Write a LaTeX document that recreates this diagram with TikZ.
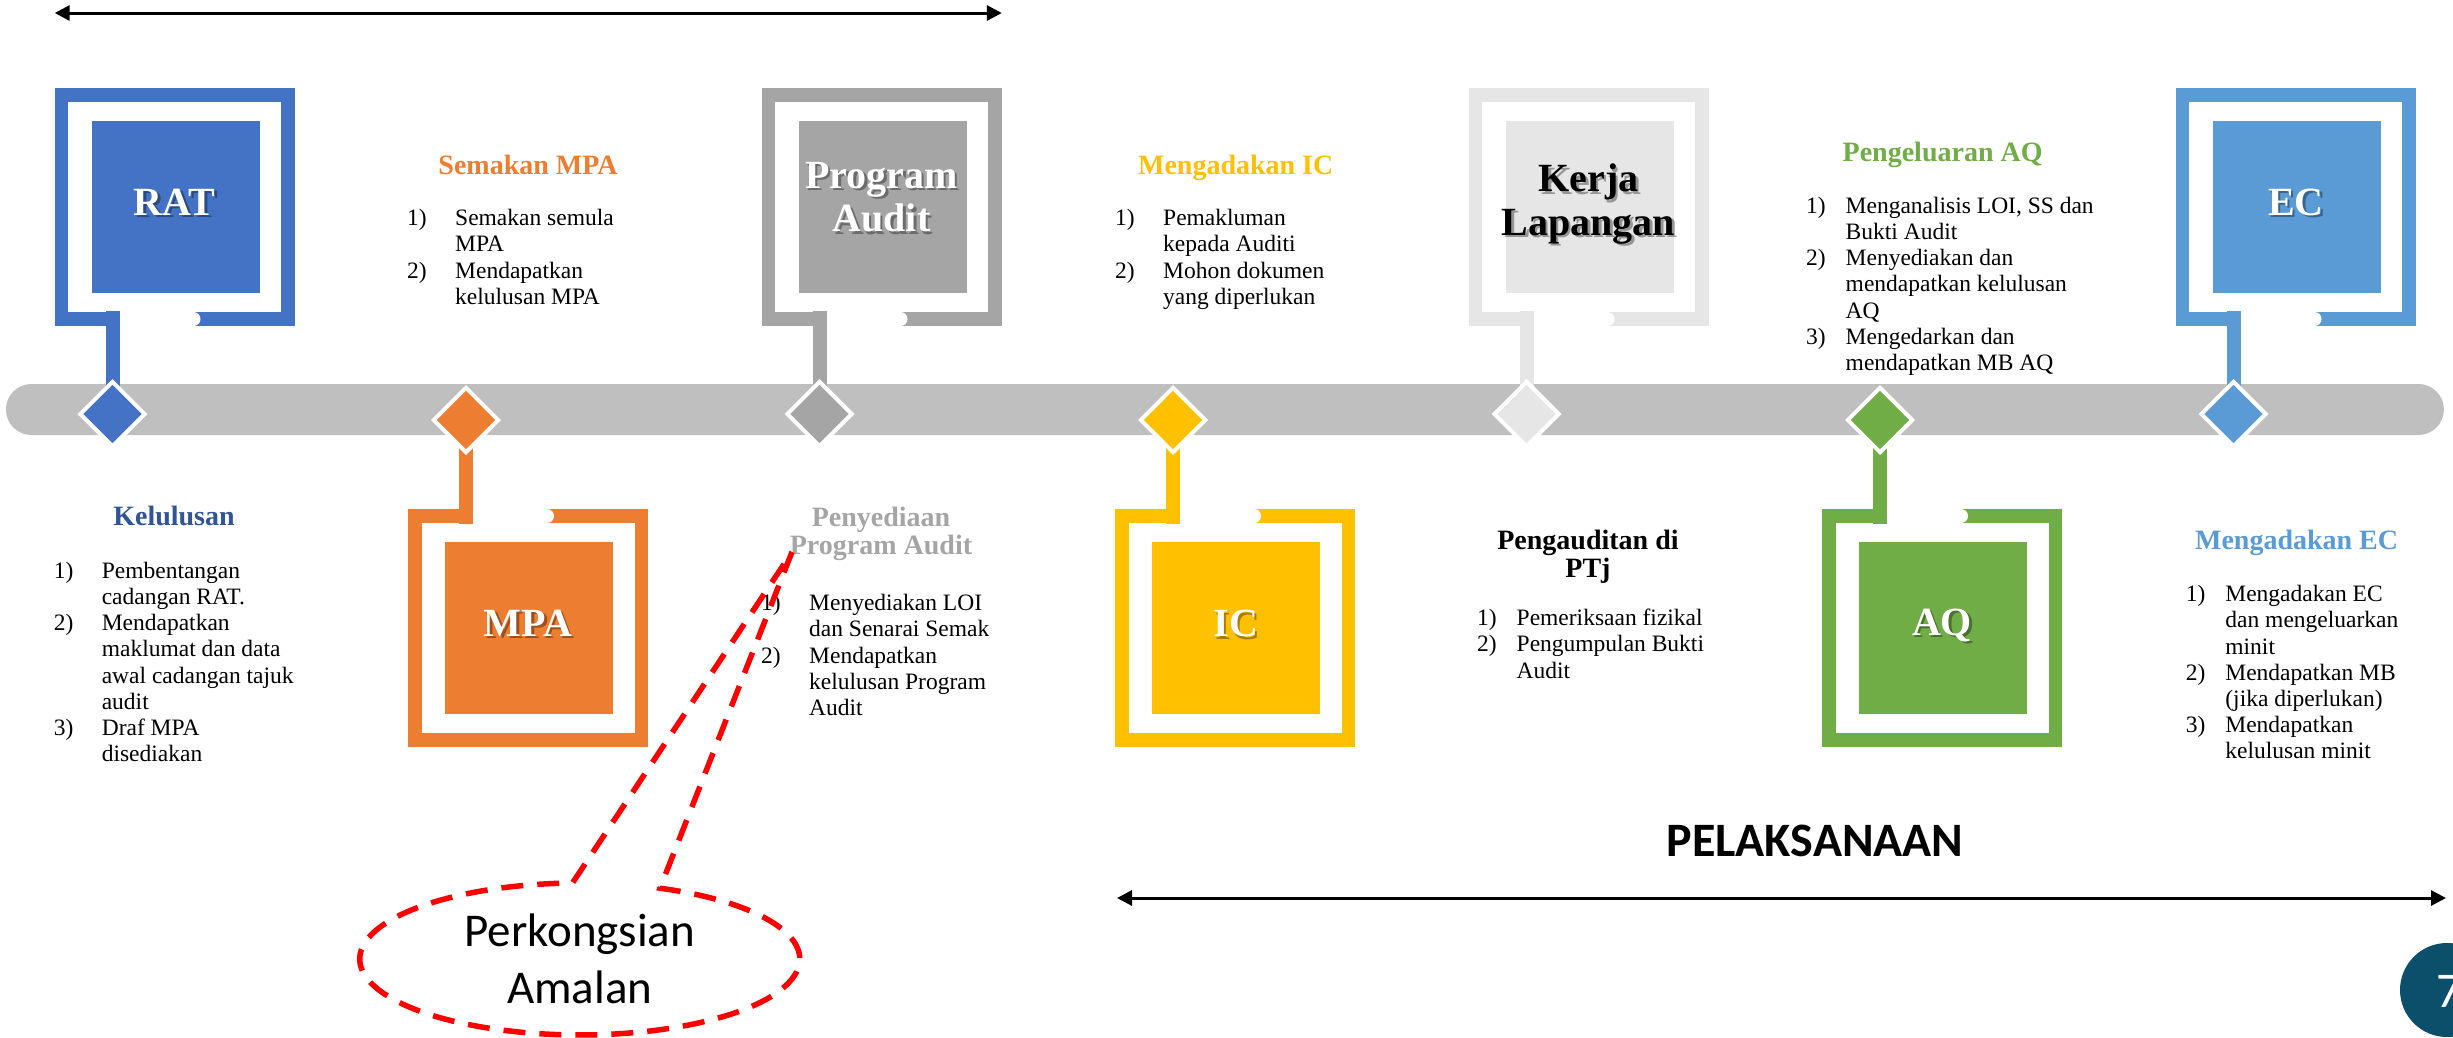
\documentclass[tikz,border=0pt]{standalone}
\usepackage{fontspec}
\setmainfont{Liberation Serif}
\newfontfamily\carlito{Carlito}
\usetikzlibrary{arrows.meta,shapes.geometric}
\definecolor{cRAT}{HTML}{4472C4}
\definecolor{cMPA}{HTML}{ED7D31}
\definecolor{cPA}{HTML}{A5A5A5}
\definecolor{cIC}{HTML}{FFC000}
\definecolor{cKL}{HTML}{E7E6E6}
\definecolor{cAQ}{HTML}{70AD47}
\definecolor{cEC}{HTML}{5B9BD5}
\definecolor{cBar}{HTML}{BFBFBF}
\definecolor{cKel}{HTML}{2F5597}
\definecolor{cPage}{HTML}{0B4F6B}
\definecolor{cRed}{HTML}{FF0000}
\newcommand\nb[1]{\makebox[48pt][l]{#1}}
\newcommand\nc[1]{\makebox[39.5pt][l]{#1}}
\newcommand\tl[1]{\begin{tabular}[t]{@{}l@{}}#1\end{tabular}}
\newcommand\tc[1]{\begin{tabular}[t]{@{}c@{}}#1\end{tabular}}
\tikzset{
  box/.style={rectangle,inner sep=0,minimum width=168pt,minimum height=172pt},
  dia/.style={diamond,aspect=1,inner sep=0,minimum width=66pt,minimum height=66pt,draw=white,line width=4pt},
  lbl/.style={inner sep=0,font=\fontsize{40}{43.4}\selectfont\bfseries},
  ttl/.style={inner sep=0,anchor=base,font=\fontsize{28}{28.6}\selectfont\bfseries},
  lst/.style={inner sep=0,anchor=base west,font=\fontsize{23.5}{26.2}\selectfont},
  dblarrow/.style={line width=3pt,{Triangle[length=15pt,width=15pt]}-{Triangle[length=15pt,width=15pt]}},
  callout/.style={draw=cRed,line width=5.5pt,dash pattern=on 22pt off 14pt}
}
\newcommand\upframe[3]{%
  \fill[#2] (#1,88) rectangle (#1+240,326);
  \fill[white] (#1+13.5,102) rectangle (#1+226.5,312);
  \fill[white] (#1+65,311) rectangle (#1+139,327);
  \fill[white] (#1+139,319) circle[radius=7];
  \fill[#2] (#1+51,311) rectangle (#1+65,388);
  \node[box,fill=#2] (#3) at (#1+121,207) {};
  \node[dia,fill=#2] (#3d) at (#1+58,414) {};
}
\newcommand\downframe[3]{%
  \fill[#2] (#1,509) rectangle (#1+240,747);
  \fill[white] (#1+13.5,523) rectangle (#1+226.5,733);
  \fill[white] (#1+65,508) rectangle (#1+139,524);
  \fill[white] (#1+139,516) circle[radius=7];
  \fill[#2] (#1+51,440) rectangle (#1+65,524);
  \node[box,fill=#2] (#3) at (#1+121,628) {};
  \node[dia,fill=#2] (#3d) at (#1+58,420) {};
}
\newcommand\lbl[5]{%
  \node[lbl,text=black,opacity=.35,anchor=base] (#1s) at (#2+2.5,#3+2.5) {\tc{#5}};
  \node[lbl,text=#4,anchor=base] (#1) at (#2,#3) {\tc{#5}};
}
\begin{document}
\begin{tikzpicture}[x=1pt,y=-1pt]
\useasboundingbox (0,0) rectangle (2453,1037);
\clip (0,0) rectangle (2453,1037);
\fill[white] (0,0) rectangle (2453,1037);

% timeline bar
\node[fill=cBar,rounded corners=25.5pt,inner sep=0,minimum width=2438pt,minimum height=51pt] (bar) at (1224.9,409.5) {};

% frames
\upframe{54.5}{cRAT}{rat}
\downframe{408}{cMPA}{mpa}
\upframe{761.5}{cPA}{pa}
\downframe{1115}{cIC}{ic}
\upframe{1468.5}{cKL}{kl}
\downframe{1822}{cAQ}{aq}
\upframe{2175.5}{cEC}{ec}

% labels in boxes
\lbl{tRAT}{174.5}{215}{white}{RAT}
\lbl{tMPA}{528}{636}{white}{MPA}
\lbl{tPA}{881.5}{188.3}{white}{Program\\Audit}
\lbl{tIC}{1235.7}{636.7}{white}{IC}
\lbl{tKL}{1588.5}{191.7}{black}{Kerja\\Lapangan}
\lbl{tAQ}{1942}{635}{white}{AQ}
\lbl{tEC}{2296}{215}{white}{EC}

% titles
\node[ttl,text=cKel] (hKel) at (174,525.7) {Kelulusan};
\node[ttl,text=cMPA] (hSem) at (528,174.3) {Semakan MPA};
\node[ttl,text=cPA] (hPen) at (881,526) {\tc{Penyediaan\\Program Audit}};
\node[ttl,text=cIC] (hMic) at (1235.7,174.3) {Mengadakan IC};
\node[ttl,text=black] (hPtj) at (1588,549) {\tc{Pengauditan di\\PTj}};
\node[ttl,text=cAQ] (hAQ) at (1942.6,161.7) {Pengeluaran AQ};
\node[ttl,text=cEC] (hMec) at (2296.6,549) {Mengadakan EC};

% lists
\node[lst] (lKel) at (53.6,578.3) {\tl{\nb{1)}Pembentangan\\ \nb{}cadangan RAT.\\ \nb{2)}Mendapatkan\\ \nb{}maklumat dan data\\ \nb{}awal cadangan tajuk\\ \nb{}audit\\ \nb{3)}Draf MPA\\ \nb{}disediakan}};
\node[lst] (lSem) at (407,225.7) {\tl{\nb{1)}Semakan semula\\ \nb{}MPA\\ \nb{2)}Mendapatkan\\ \nb{}kelulusan MPA}};
\node[lst] (lPen) at (761,610.7) {\tl{\nb{1)}Menyediakan LOI\\ \nb{}dan Senarai Semak\\ \nb{2)}Mendapatkan\\ \nb{}kelulusan Program\\ \nb{}Audit}};
\node[lst] (lMic) at (1115,225.7) {\tl{\nb{1)}Pemakluman\\ \nb{}kepada Auditi\\ \nb{2)}Mohon dokumen\\ \nb{}yang diperlukan}};
\node[lst] (lPtj) at (1477,625.7) {\tl{\nc{1)}Pemeriksaan fizikal\\ \nc{2)}Pengumpulan Bukti\\ \nc{}Audit}};
\node[lst] (lAQ) at (1806,213.3) {\tl{\nc{1)}Menganalisis LOI, SS dan\\ \nc{}Bukti Audit\\ \nc{2)}Menyediakan dan\\ \nc{}mendapatkan kelulusan\\ \nc{}AQ\\ \nc{3)}Mengedarkan dan\\ \nc{}mendapatkan MB AQ}};
\node[lst] (lMec) at (2185.7,601.7) {\tl{\nc{1)}Mengadakan EC\\ \nc{}dan mengeluarkan\\ \nc{}minit\\ \nc{2)}Mendapatkan MB\\ \nc{}(jika diperlukan)\\ \nc{3)}Mendapatkan\\ \nc{}kelulusan minit}};

% arrows
\coordinate (a1) at (54.7,13);
\coordinate (a2) at (1001.8,13);
\draw[dblarrow] (a1) -- (a2);
\coordinate (b1) at (1117,898);
\coordinate (b2) at (2446,898);
\draw[dblarrow] (b1) -- (b2);
\node[inner sep=0,anchor=base,font=\carlito\bfseries\fontsize{48}{50}\selectfont] (pel) at (1815,856) {PELAKSANAAN};

% callout
\coordinate (tip) at (792,552);
\coordinate (cr) at (660.0,888.2);
\draw[callout] (tip) -- (cr) arc[start angle=-68.6,end angle=268.1,x radius=220,y radius=76] -- (tip);
\node[inner sep=0,anchor=base,font=\carlito\fontsize{47}{56.6}\selectfont] (pam) at (579.7,946.7) {\tc{Perkongsian\\Amalan}};

% page number
\node[circle,fill=cPage,inner sep=0,minimum size=94pt] (pgc) at (2447,990) {};
\node[inner sep=0,anchor=base,text=white,font=\carlito\fontsize{50}{50}\selectfont] (pg) at (2449,1007) {7};
\end{tikzpicture}
\end{document}
